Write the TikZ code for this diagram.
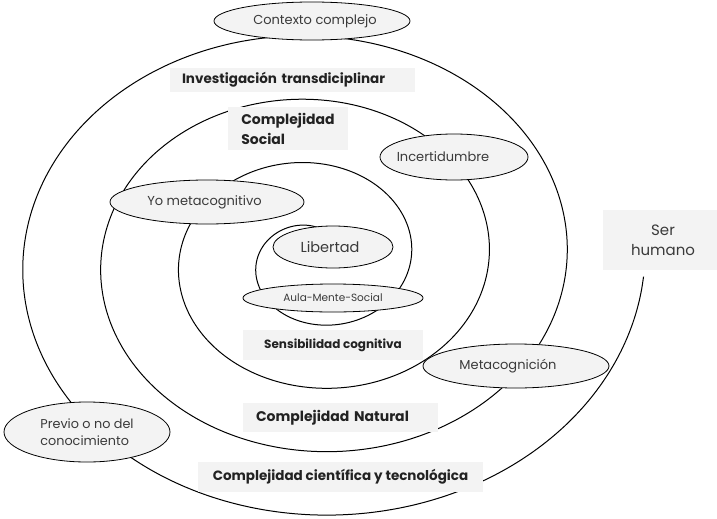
\documentclass[tikz,border=0pt]{standalone}
\usepackage{fontspec}
\setmainfont{Poppins}
\usetikzlibrary{shapes.geometric}
\definecolor{panel}{HTML}{F3F3F3}
\definecolor{ink}{HTML}{3A3A3A}
\definecolor{inkdark}{HTML}{222222}
\newcommand{\nudge}[2]{\hspace*{#1}#2}
\begin{document}
\begin{tikzpicture}[x=1pt,y=-1pt,
  oval/.style={ellipse, draw=black, line width=0.8pt, fill=panel, inner sep=0pt,
    text=ink, font=\fontsize{13}{17}\selectfont},
  band/.style={fill=panel, inner sep=0pt, text=inkdark,
    font=\bfseries\fontsize{13.5}{17}\selectfont},
  spiralline/.style={line width=1pt, black}]
\useasboundingbox (0,0) rectangle (717,519);

% the spiral, running clockwise from under "Ser humano" into "Libertad"
\draw[spiralline] plot[domain=0.01:3.8, samples=500, smooth]
  ({314.5+(330.5-78*\x)*cos(360*\x)}, {259.6+(271.2-63.5*\x)*sin(360*\x)});

% oval labels sitting on the spiral
\node[oval, minimum width=196pt, minimum height=38pt] (ctx) at (312,21) {\nudge{6pt}{Contexto complejo}};
\node[oval, minimum width=148pt, minimum height=46pt] (inc) at (454,157) {\nudge{-22pt}{Incertidumbre}};
\node[oval, minimum width=194pt, minimum height=44pt] (yo) at (207,202) {\nudge{-5pt}{Yo metacognitivo}};
\node[oval, minimum width=120pt, minimum height=42pt, font=\fontsize{14.5}{17}\selectfont] (lib) at (333,247) {\nudge{-6pt}{Libertad}};
\node[oval, minimum width=180pt, minimum height=28pt, font=\fontsize{10.5}{12}\selectfont] (aula) at (333,298) {Aula-Mente-Social};
\node[oval, minimum width=186pt, minimum height=44pt] (meta) at (516,366) {\nudge{-16pt}{Metacognición}};
\node[oval, minimum width=166pt, minimum height=60pt, align=left, font=\fontsize{12.8}{17}\selectfont] (prev) at (87,432) {Previo o no del\\conocimiento};

% shaded bands naming each turn
\node[band, minimum height=24pt, text width=221pt, inner xsep=12pt, align=left] (inv) at (292.5,80) {Investigación transdiciplinar};
\node[band, minimum width=120pt, minimum height=43pt, align=left, font=\bfseries\fontsize{14}{20}\selectfont] (soc) at (288,128.5) {Complejidad\\Social};
\node[band, minimum width=180pt, minimum height=30pt, font=\bfseries\fontsize{12}{15}\selectfont] (sens) at (333,345) {Sensibilidad cognitiva};
\node[band, minimum height=29pt, text width=169pt, inner xsep=13pt, align=left, font=\bfseries\fontsize{14}{17}\selectfont] (nat) at (340.5,417.5) {Complejidad Natural};
\node[band, minimum width=285pt, minimum height=30pt] (cyt) at (340.5,477) {Complejidad científica y tecnológica};
\node[band, text=ink, font=\fontsize{15}{20}\selectfont, minimum width=114pt, minimum height=60pt, align=center] (ser) at (660,240) {\nudge{6pt}{Ser}\\\nudge{6pt}{humano}};
\end{tikzpicture}
\end{document}
